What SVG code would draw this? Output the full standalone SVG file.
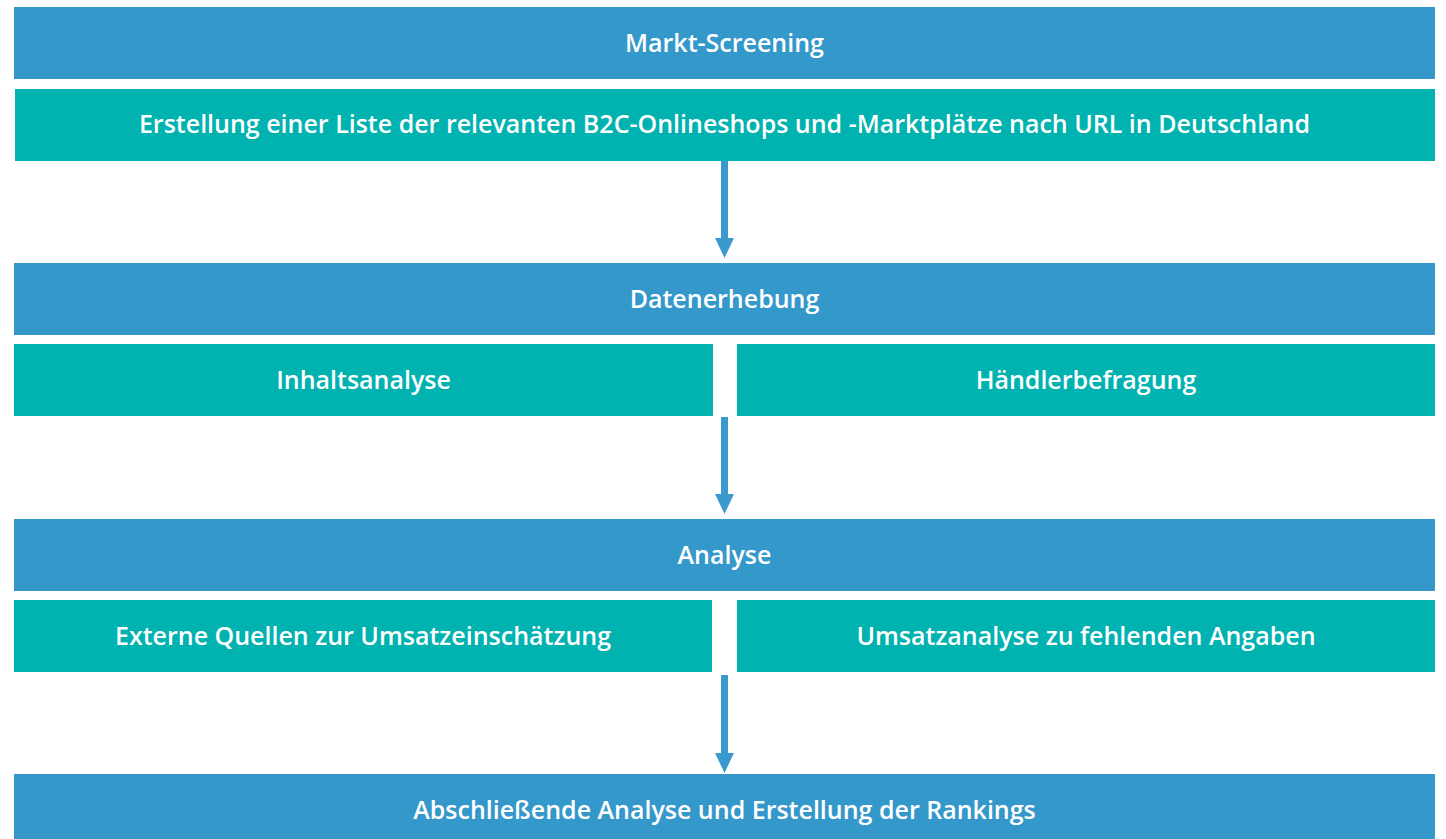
<svg xmlns="http://www.w3.org/2000/svg" width="1446" height="839" viewBox="0 0 1446 839">
<style>
.b{fill:#3598CB}
.t{fill:#00B2B0}
text{font-family:"Open Sans","Noto Sans",sans-serif;font-weight:600;font-size:25px;fill:#fff;text-anchor:middle}
.c{stroke:#3A9AD0;stroke-width:7;fill:none}
.h{fill:#3A9AD0}
</style>
<rect width="1446" height="839" fill="#fff"/>
<g id="n1"><rect class="b" x="14" y="7" width="1421" height="72"/><text x="724.5" y="52">Markt-Screening</text></g>
<g id="n2"><rect class="t" x="15" y="89" width="1420" height="72"/><text x="724.5" y="133">Erstellung einer Liste der relevanten B2C-Onlineshops und -Marktplätze nach URL in Deutschland</text></g>
<g id="n3"><rect class="b" x="14" y="263" width="1421" height="72"/><text x="724.5" y="308">Datenerhebung</text></g>
<g id="n4"><rect class="t" x="14" y="344" width="699" height="72"/><text x="363.5" y="389">Inhaltsanalyse</text></g>
<g id="n5"><rect class="t" x="737" y="344" width="698" height="72"/><text x="1086" y="389">Händlerbefragung</text></g>
<g id="n6"><rect class="b" x="14" y="519" width="1421" height="72"/><text x="724.5" y="564">Analyse</text></g>
<g id="n7"><rect class="t" x="14" y="600" width="698" height="72"/><text x="363" y="645">Externe Quellen zur Umsatzeinschätzung</text></g>
<g id="n8"><rect class="t" x="737" y="600" width="698" height="72"/><text x="1086" y="645">Umsatzanalyse zu fehlenden Angaben</text></g>
<g id="n9"><rect class="b" x="14" y="774" width="1421" height="72"/><text x="724.5" y="819">Abschließende Analyse und Erstellung der Rankings</text></g>
<g id="connectors">
<line class="c" x1="724.5" y1="161" x2="724.5" y2="239"/><polygon class="h" points="715,238 734,238 724.5,258"/>
<line class="c" x1="724.5" y1="417" x2="724.5" y2="495"/><polygon class="h" points="715,494 734,494 724.5,514"/>
<line class="c" x1="724.5" y1="675" x2="724.5" y2="754"/><polygon class="h" points="715,753 734,753 724.5,773"/>
</g>
</svg>
